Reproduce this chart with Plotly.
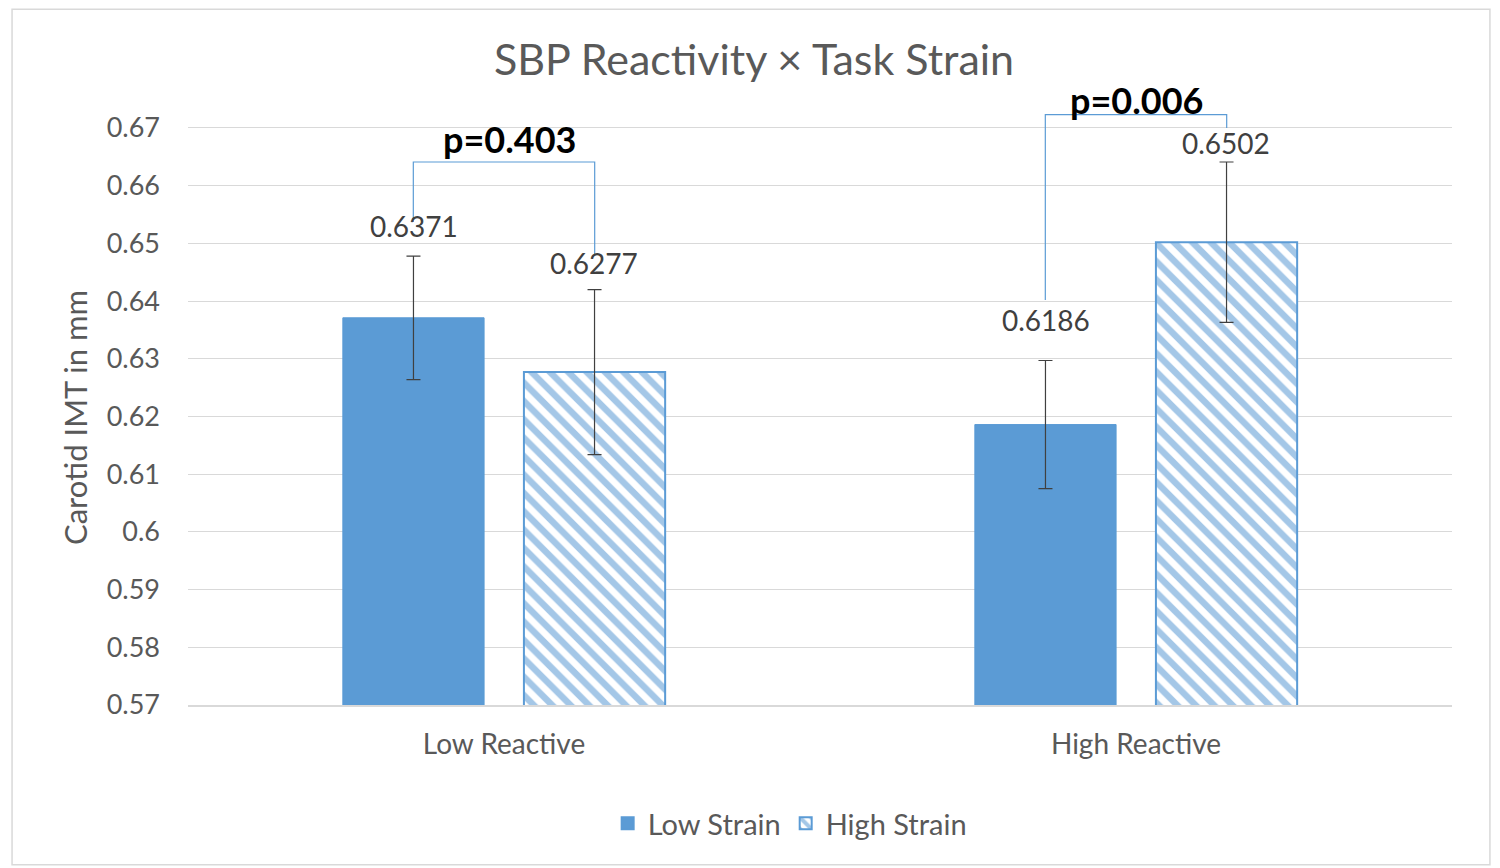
import plotly.graph_objects as go

categories = ["Low Reactive", "High Reactive"]
low_strain = [0.6371, 0.6186]
high_strain = [0.6277, 0.6502]
low_strain_err = [0.0107, 0.0111]
high_strain_err = [0.0143, 0.0139]
y_ticks = [0.57, 0.58, 0.59, 0.6, 0.61, 0.62, 0.63, 0.64, 0.65, 0.66, 0.67]
p_labels = ["p=0.403", "p=0.006"]
bracket_top = [0.6641, 0.6723]
bracket_left_bottom = [0.6537, 0.6402]
bracket_right_bottom = [0.6480, 0.6700]

BLUE = "#5B9BD5"
TXT = "#595959"
FONT = "Lato, 'Open Sans', sans-serif"

fig = go.Figure()
fig.add_trace(go.Bar(
    name="Low Strain", x=categories, y=low_strain,
    marker=dict(color=BLUE, line=dict(color=BLUE, width=1)),
    error_y=dict(type="data", array=low_strain_err, color="#404040", thickness=1.2, width=7),
))
fig.add_trace(go.Bar(
    name="High Strain", x=categories, y=high_strain,
    marker=dict(color="white", line=dict(color=BLUE, width=2),
                pattern=dict(shape="\\", fgcolor="#4A8FD0", bgcolor="white", size=13, solidity=0.5)),
    error_y=dict(type="data", array=high_strain_err, color="#404040", thickness=1.2, width=7),
))

# data labels (pixel shifts above error-bar tops)
label_shift_low = [11, 22]
label_shift_high = [8, 0]
p_shift = [-1, -9]
p_xshift = [5, 0]
annotations = []
for i, c in enumerate(categories):
    annotations.append(dict(x=c, y=low_strain[i] + low_strain_err[i], xref="x", yref="y",
                            text=f"{low_strain[i]:.4f}", showarrow=False, xshift=-90,
                            yshift=label_shift_low[i], yanchor="bottom",
                            font=dict(family=FONT, size=28, color="#404040")))
    annotations.append(dict(x=c, y=high_strain[i] + high_strain_err[i], xref="x", yref="y",
                            text=f"{high_strain[i]:.4f}", showarrow=False, xshift=90,
                            yshift=label_shift_high[i], yanchor="bottom",
                            font=dict(family=FONT, size=28, color="#404040")))
    annotations.append(dict(x=c, y=bracket_top[i], xref="x", yref="y",
                            text=f"<b>{p_labels[i]}</b>", showarrow=False, xshift=p_xshift[i],
                            yshift=p_shift[i], yanchor="bottom",
                            font=dict(family=FONT, size=36, color="black")))

# y-axis title
annotations.append(dict(x=-0.0894, y=0.4776, xref="paper", yref="paper", text="Carotid IMT in mm",
                        textangle=-90, showarrow=False, xanchor="center", yanchor="middle",
                        font=dict(family=FONT, size=31, color=TXT)))

shapes = []
for i, c in enumerate(categories):
    xl = i - 0.1435
    xr = i + 0.1435
    shapes.append(dict(type="path", xref="x", yref="y",
                       path=f"M {xl} {bracket_left_bottom[i]} L {xl} {bracket_top[i]} L {xr} {bracket_top[i]} L {xr} {bracket_right_bottom[i]}",
                       line=dict(color=BLUE, width=1.2)))

# outer chart border
shapes.append(dict(type="rect", xref="paper", yref="paper", x0=-0.1392, x1=1.030, y0=-0.265, y1=1.154,
                   line=dict(color="#D9D9D9", width=1.5), layer="below"))

fig.update_layout(
    width=1492, height=860,
    margin=dict(l=180, r=48, t=94, b=163),
    paper_bgcolor="white", plot_bgcolor="white",
    barmode="group", bargap=0.427, bargroupgap=0.22,
    title=dict(text="SBP Reactivity × Task Strain", x=0.5, xanchor="center", y=0.9395, yanchor="middle",
               font=dict(family=FONT, size=43, color=TXT)),
    font=dict(family=FONT, color=TXT),
    showlegend=True,
    legend=dict(orientation="h", x=0.476, xanchor="center", y=-0.154, yanchor="top",
                font=dict(family=FONT, size=29, color=TXT), traceorder="normal",
                itemsizing="constant", itemwidth=30),
    annotations=annotations,
    shapes=shapes,
)
fig.update_yaxes(range=[0.57, 0.6745], tickvals=y_ticks, ticktext=[f"{v:g}" for v in y_ticks],
                 showgrid=True, gridcolor="#D9D9D9", gridwidth=1, zeroline=False,
                 showline=False, ticks="", ticklen=0, ticklabelstandoff=27,
                 tickfont=dict(family=FONT, size=27, color=TXT))
fig.update_xaxes(showline=True, linecolor="#D9D9D9", linewidth=1.5, ticks="", ticklabelstandoff=14,
                 tickfont=dict(family=FONT, size=28, color=TXT))

fig.write_html("out.html")
